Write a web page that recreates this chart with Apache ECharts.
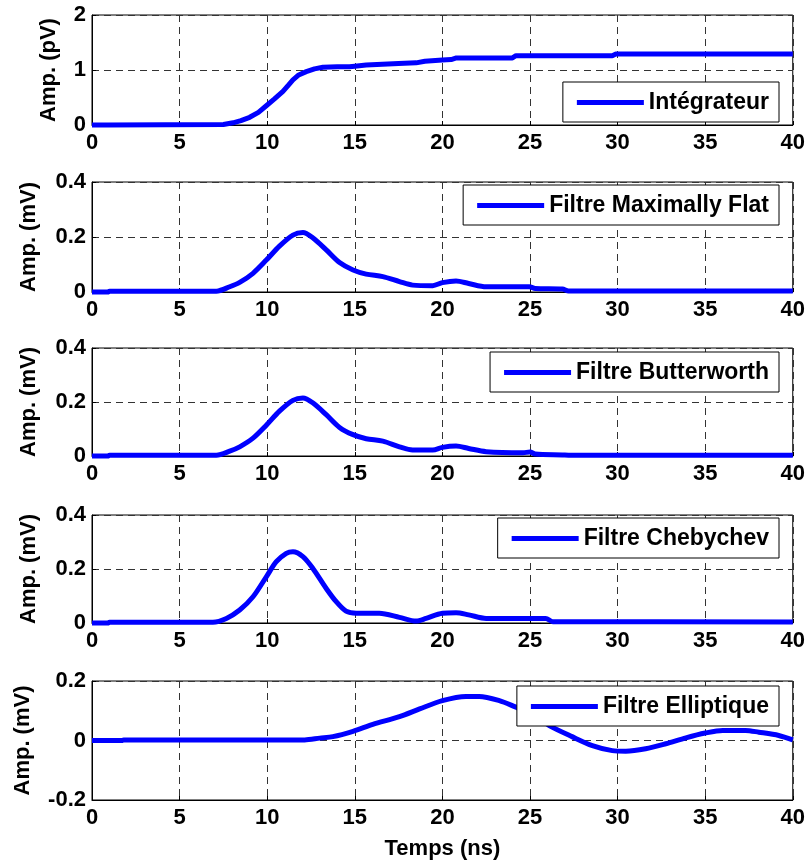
<!DOCTYPE html>
<html><head><meta charset="utf-8">
<script src="https://cdn.jsdelivr.net/npm/echarts@6/dist/echarts.min.js"></script>
<style>html,body{margin:0;padding:0;background:#fff}#c{width:808px;height:862px}</style>
</head><body><div id="c"></div>
<script>
// ---- data (time in ns) ----
const xTicks = [0, 5, 10, 15, 20, 25, 30, 35, 40];
const seriesNames = ['Intégrateur', 'Filtre Maximally Flat', 'Filtre Butterworth', 'Filtre Chebychev', 'Filtre Elliptique'];
const yNames = ['Amp. (pV)', 'Amp. (mV)', 'Amp. (mV)', 'Amp. (mV)', 'Amp. (mV)'];

const integT = [0, 0.9, 1.0, 7.5, 8.05, 8.5, 9.0, 9.5, 9.95, 10.4, 10.9, 11.2, 11.47, 11.8, 12.23, 12.7, 13.18, 14.0, 14.7, 15.0, 15.65, 17.5, 18.5, 19.0, 20.0, 20.5, 20.8, 24.0, 24.2, 29.7, 29.9, 40];
const integV = [0, 0, 0.01, 0.01, 0.04, 0.08, 0.14, 0.23, 0.35, 0.47, 0.61, 0.72, 0.82, 0.91, 0.97, 1.02, 1.05, 1.06, 1.06, 1.07, 1.09, 1.12, 1.13, 1.16, 1.18, 1.19, 1.22, 1.22, 1.26, 1.26, 1.29, 1.29];

const flatT = [0, 0.9, 1.0, 7.1, 7.86, 8.43, 9.19, 9.95, 10.7, 11.47, 12.04, 12.6, 13.37, 14.13, 14.9, 15.65, 16.6, 17.55, 18.3, 19.45, 20.0, 20.78, 21.5, 22.5, 24.96, 25.3, 26.85, 27.2, 40];
const flatV = [0, 0, 0.003, 0.003, 0.019, 0.035, 0.068, 0.116, 0.167, 0.207, 0.216, 0.197, 0.153, 0.107, 0.080, 0.065, 0.056, 0.038, 0.025, 0.023, 0.034, 0.040, 0.031, 0.019, 0.019, 0.013, 0.011, 0.004, 0.004];

const butterT = [0, 0.9, 1.0, 7.1, 7.86, 8.43, 9.19, 9.95, 10.7, 11.47, 12.04, 12.6, 13.37, 14.13, 14.9, 15.65, 16.6, 17.55, 18.3, 19.45, 20.0, 20.78, 21.5, 22.5, 24.6, 25.0, 25.3, 26.85, 27.2, 40];
const butterV = [0, 0, 0.003, 0.003, 0.018, 0.034, 0.066, 0.114, 0.166, 0.206, 0.215, 0.197, 0.153, 0.106, 0.079, 0.064, 0.055, 0.034, 0.022, 0.022, 0.032, 0.037, 0.028, 0.016, 0.012, 0.015, 0.007, 0.004, 0.003, 0.003];

const chebyT = [0, 0.9, 1.0, 6.9, 7.67, 8.43, 9.19, 9.95, 10.52, 11.09, 11.47, 12.04, 12.6, 13.37, 13.94, 14.5, 15.08, 16.4, 17.55, 18.5, 19.07, 20.0, 20.78, 21.5, 22.5, 25.9, 26.3, 40];
const chebyV = [0, 0, 0.003, 0.003, 0.017, 0.048, 0.097, 0.171, 0.227, 0.258, 0.264, 0.246, 0.203, 0.128, 0.079, 0.044, 0.036, 0.036, 0.021, 0.007, 0.017, 0.036, 0.038, 0.030, 0.017, 0.017, 0.005, 0.004];

const ellipT = [0, 1.7, 1.8, 12.14, 13.0, 13.75, 14.9, 16.03, 17.55, 18.7, 20.0, 21.35, 22.1, 23.25, 24.2, 25.0, 25.6, 26.1, 27.4, 28.56, 29.7, 30.47, 31.6, 32.75, 33.9, 35.0, 36.0, 37.3, 38.06, 39.2, 40];
const ellipV = [0, 0, 0.002, 0.002, 0.008, 0.013, 0.031, 0.054, 0.080, 0.106, 0.134, 0.148, 0.148, 0.134, 0.112, 0.093, 0.072, 0.050, 0.013, -0.017, -0.034, -0.036, -0.028, -0.011, 0.009, 0.025, 0.034, 0.034, 0.028, 0.017, 0.002];

const yMin = [0, 0, 0, 0, -0.2];
const yMax = [2, 0.4, 0.4, 0.4, 0.2];
const yInterval = [1, 0.2, 0.2, 0.2, 0.2];

// ---- layout ----
const FONT = 'Liberation Sans, Arial, sans-serif';
const gridTops = [15, 182, 348, 515, 681];
const gridHeights = [110, 110, 108, 108, 119];
const legendTops = [82, 185, 352, 518, 686];
const yNameGaps = [32, 52, 52, 52, 58];
const smoothOn = [false, 0.3, 0.3, 0.3, 0.3];

const allT = [integT, flatT, butterT, chebyT, ellipT];
const allV = [integV, flatV, butterV, chebyV, ellipV];

const grid = [], xAxis = [], yAxis = [], series = [], legend = [];
for (let i = 0; i < 5; i++) {
  grid.push({left: 92, right: 14, top: gridTops[i], height: gridHeights[i], show: true,
    borderColor: '#000', borderWidth: 1, backgroundColor: '#fff'});
  xAxis.push({type: 'value', gridIndex: i, min: 0, max: 40, interval: 5,
    name: i === 4 ? 'Temps (ns)' : '', nameLocation: 'middle', nameGap: 38,
    nameTextStyle: {fontFamily: FONT, fontWeight: 'bold', fontSize: 22, color: '#000'},
    axisLine: {show: true, onZero: false, lineStyle: {color: '#000', width: 1}},
    axisTick: {show: true, inside: true, length: 4, lineStyle: {color: '#000'}},
    axisLabel: {fontFamily: FONT, fontWeight: 'bold', fontSize: 22, color: '#000', margin: 7,
      formatter: v => xTicks.includes(v) ? String(v) : ''},
    splitLine: {show: true, lineStyle: {color: '#333', type: [7, 5], width: 1}}});
  yAxis.push({type: 'value', gridIndex: i, min: yMin[i], max: yMax[i], interval: yInterval[i],
    name: yNames[i], nameLocation: 'middle', nameGap: yNameGaps[i],
    nameTextStyle: {fontFamily: FONT, fontWeight: 'bold', fontSize: 22, color: '#000'},
    axisLine: {show: true, onZero: false, lineStyle: {color: '#000', width: 1}},
    axisTick: {show: true, inside: true, length: 4, lineStyle: {color: '#000'}},
    axisLabel: {fontFamily: FONT, fontWeight: 'bold', fontSize: 22, color: '#000', margin: 6,
      formatter: v => String(Math.round(v * 10) / 10)},
    splitLine: {show: true, lineStyle: {color: '#333', type: [7, 5], width: 1}}});
  series.push({type: 'line', name: seriesNames[i], xAxisIndex: i, yAxisIndex: i,
    data: allT[i].map((t, k) => [t, allV[i][k]]),
    showSymbol: false, symbol: 'none', smooth: smoothOn[i], clip: false,
    color: '#0000ff', lineStyle: {color: '#0000ff', width: 5}, z: 3});
  legend.push({data: [seriesNames[i]], right: 29, top: legendTops[i], orient: 'horizontal',
    backgroundColor: '#fff', borderColor: '#000', borderWidth: 1, borderRadius: 0,
    padding: [9, 10, 8, 14], icon: 'rect', itemWidth: 67, itemHeight: 5, selectedMode: false,
    itemStyle: {color: '#0000ff'},
    textStyle: {fontFamily: FONT, fontWeight: 'bold', fontSize: 23, lineHeight: 23, color: '#000'}});
}

const chart = echarts.init(document.getElementById('c'), null, {renderer: 'canvas'});
chart.setOption({animation: false, backgroundColor: '#fff', grid, xAxis, yAxis, series, legend});
</script></body></html>
